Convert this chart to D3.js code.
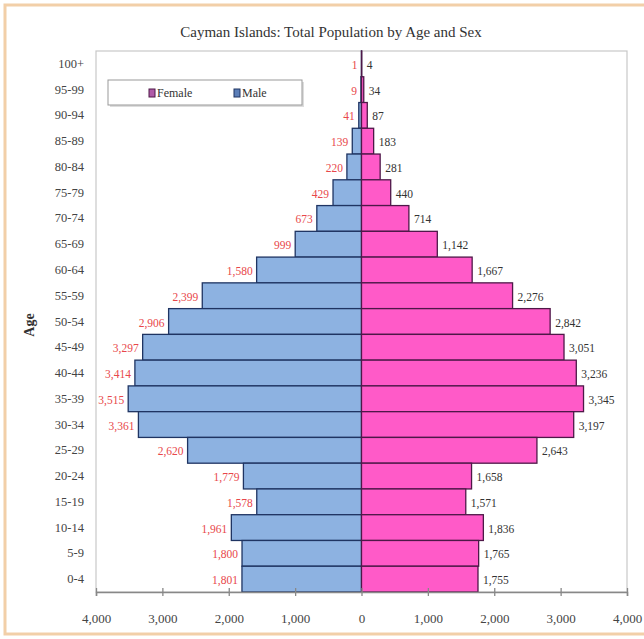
<!DOCTYPE html>
<html><head><meta charset="utf-8">
<script src="https://cdn.jsdelivr.net/npm/d3@7"></script>
<style>body{margin:0;background:#fff}svg{display:block}</style>
</head><body>
<svg id="c" width="644" height="639"></svg>
<script>
const ages = ["100+","95-99","90-94","85-89","80-84","75-79","70-74","65-69","60-64","55-59","50-54","45-49","40-44","35-39","30-34","25-29","20-24","15-19","10-14","5-9","0-4"];
const male = [1,9,41,139,220,429,673,999,1580,2399,2906,3297,3414,3515,3361,2620,1779,1578,1961,1800,1801];
const female = [4,34,87,183,281,440,714,1142,1667,2276,2842,3051,3236,3345,3197,2643,1658,1571,1836,1765,1755];
const xTicks = [-4000,-3000,-2000,-1000,0,1000,2000,3000,4000];
const title = "Cayman Islands: Total Population by Age and Sex";

const svg = d3.select("#c");
const FONT = "'Liberation Serif', serif";
const L = 96, R = 627, T = 51, B = 592;

// outer border
svg.append("rect").attr("x",5).attr("y",5).attr("width",660).attr("height",629)
  .attr("fill","#fff").attr("stroke","#f2cfa8").attr("stroke-width",3);

const x = d3.scaleLinear().domain([-4000,4000]).range([L,R]);
const y = d3.scaleBand().domain(ages).range([T,B]).padding(0);

// plot frame
svg.append("rect").attr("x",L).attr("y",T).attr("width",R-L).attr("height",B-T)
  .attr("fill","#fff").attr("stroke","#c8c8c8").attr("stroke-width",1.2);

svg.append("text").attr("x",331).attr("y",37).attr("text-anchor","middle")
  .attr("font-family",FONT).attr("font-size",15).attr("fill","#333").text(title);

// bars
const g = svg.append("g");
g.selectAll("rect.m").data(ages).join("rect").attr("class","m")
  .attr("x",(d,i)=>x(-male[i])).attr("y",d=>y(d))
  .attr("width",(d,i)=>x(0)-x(-male[i])).attr("height",y.bandwidth())
  .attr("fill","#8db2e1").attr("stroke","#1f3462").attr("stroke-width",1.3);
g.selectAll("rect.f").data(ages).join("rect").attr("class","f")
  .attr("x",x(0)).attr("y",d=>y(d))
  .attr("width",(d,i)=>x(female[i])-x(0)).attr("height",y.bandwidth())
  .attr("fill","#ff5ac8").attr("stroke","#4e1848").attr("stroke-width",1.3);

const fmt = d3.format(",");
g.selectAll("text.ml").data(ages).join("text").attr("class","ml")
  .attr("x",(d,i)=>x(-male[i])-4).attr("y",d=>y(d)+y.bandwidth()/2+5)
  .attr("text-anchor","end").attr("font-family",FONT).attr("font-size",11.5)
  .attr("fill","#e8474a").text((d,i)=>fmt(male[i]));
g.selectAll("text.fl").data(ages).join("text").attr("class","fl")
  .attr("x",(d,i)=>x(female[i])+5).attr("y",d=>y(d)+y.bandwidth()/2+5)
  .attr("text-anchor","start").attr("font-family",FONT).attr("font-size",11.5)
  .attr("fill","#333").text((d,i)=>fmt(female[i]));

// y labels
svg.selectAll("text.yl").data(ages).join("text").attr("class","yl")
  .attr("x",84).attr("y",d=>y(d)+y.bandwidth()/2+4)
  .attr("text-anchor","end").attr("font-family",FONT).attr("font-size",12.5)
  .attr("fill","#444").text(d=>d);

// x axis
const xa = d3.axisBottom(x).tickValues(xTicks).tickFormat(d=>fmt(Math.abs(d))).tickSize(4).tickPadding(18);
const ax = svg.append("g").attr("transform",`translate(0,${B})`).call(xa);
ax.select(".domain").attr("stroke","#888").attr("stroke-width",1.5);
ax.selectAll(".tick line").attr("stroke","#888").attr("y1",-4).attr("stroke-width",1.3);
ax.selectAll(".tick text").attr("font-family",FONT).attr("font-size",13).attr("fill","#444");

// y title
svg.append("text").attr("transform","translate(34,325) rotate(-90)").attr("text-anchor","middle")
  .attr("font-family",FONT).attr("font-size",14).attr("font-weight","bold").attr("fill","#333").text("Age");

// legend
const lg = svg.append("g");
lg.append("rect").attr("x",110).attr("y",82).attr("width",194).attr("height",25).attr("fill","#ddd");
lg.append("rect").attr("x",108).attr("y",80).attr("width",194).attr("height",25)
  .attr("fill","#fff").attr("stroke","#999").attr("stroke-width",1);
const legItems = [{k:"Female",c:"#b05aa8",s:"#4e1848",x:149},{k:"Male",c:"#5c7fb8",s:"#1f3462",x:234}];
legItems.forEach(it=>{
  lg.append("rect").attr("x",it.x).attr("y",89).attr("width",6).attr("height",8)
    .attr("fill",it.c).attr("stroke",it.s).attr("stroke-width",1);
  lg.append("text").attr("x",it.x+8).attr("y",97).attr("font-family",FONT).attr("font-size",12)
    .attr("fill","#333").text(it.k);
});
</script>
</body></html>
